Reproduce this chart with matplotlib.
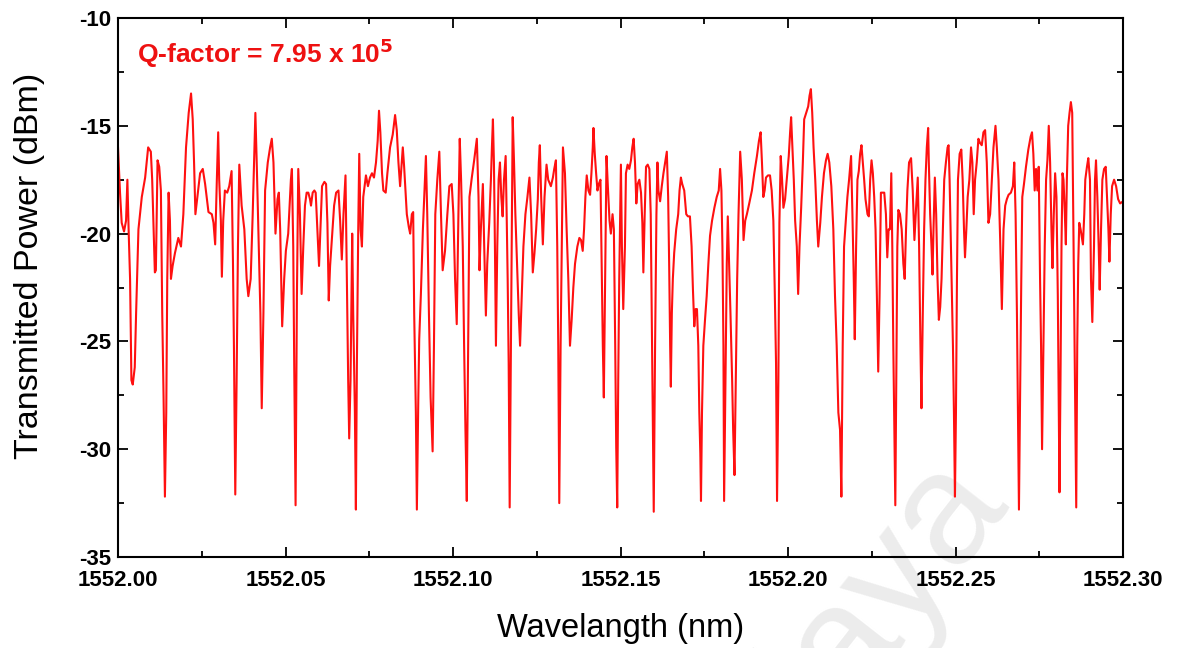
import numpy as np
import matplotlib.pyplot as plt
from matplotlib.ticker import MultipleLocator

# wavelength offset from 1552 nm (in pm) and transmitted power (dBm)
dl_pm = [
    0.0, 0.6, 1.1, 1.8, 2.4, 2.8, 3.2, 3.6, 4.0, 4.4, 5.0, 5.4, 6.1, 7.1, 8.1, 9.0, 9.8, 10.2, 10.5, 11.0,
    11.3, 11.8, 12.3, 12.8, 13.2, 13.6, 14.0, 14.4, 14.7, 15.1, 15.5, 15.8, 16.3, 17.0, 18.0, 18.8, 19.5, 20.3,
    21.1, 21.8, 22.3, 22.7, 23.1, 23.7, 24.5,
    25.3, 26.0, 27.0, 28.0, 28.5, 29.0, 29.5, 29.9, 30.2, 30.7, 31.0, 31.4, 31.9, 32.6, 33.2, 33.9, 34.3, 34.6,
    35.0, 35.4, 35.8, 36.2, 36.9, 37.7, 38.4, 38.9, 39.6, 40.2, 40.6, 41.0, 41.4, 42.0, 42.5, 42.9, 43.4, 43.9,
    44.7, 45.4, 45.9, 46.4, 47.0, 47.6, 48.0, 48.4, 49.0, 49.6, 50.1, 50.8, 51.6, 51.9, 52.3, 52.6, 53.0, 53.4, 53.8,
    54.3, 54.8, 55.3, 55.8, 56.3, 56.8, 57.3, 57.6, 58.1, 58.6, 59.0, 59.5, 60.0, 60.5, 60.9, 61.6, 62.1, 62.5,
    62.9, 63.3, 63.9, 64.5, 65.1, 65.8, 66.3, 66.8, 67.3, 67.9, 68.3, 68.7, 69.0, 69.4, 69.9, 70.2, 70.7, 71.0,
    71.3, 71.7, 72.0, 72.4, 72.8, 73.2, 74.0, 74.6, 75.2, 75.8, 76.4, 77.0, 77.5, 77.9, 78.3, 78.8,
    79.2, 79.9, 80.4, 81.2, 82.0, 82.7, 83.2, 83.7, 84.2, 84.6, 85.0, 85.4, 85.8, 86.2, 86.8, 87.2, 87.7, 88.1,
    88.4, 88.9, 89.2, 89.6, 89.9, 90.4, 91.0, 91.4, 91.9, 92.3, 92.8, 93.3, 93.9, 94.3, 94.7, 95.3, 95.9, 96.4,
    96.9, 97.6, 98.3, 98.9, 99.6, 100.1, 100.6, 101.1, 101.6, 102.0, 102.4, 102.9, 103.3, 103.7, 104.1, 104.5,
    104.9, 105.6, 106.3, 107.1, 107.6, 107.9,
    108.3, 108.9, 109.3, 109.8, 110.2, 110.8, 111.3, 111.6, 111.9, 112.2, 112.5, 112.8, 113.2, 113.6, 114.0,
    114.4, 114.8, 115.2, 115.7, 116.0, 116.3, 116.6, 116.9, 117.2, 117.5, 117.8, 118.2, 118.6, 119.1, 119.6,
    120.0, 120.5, 121.0, 121.6, 122.2, 122.8, 123.3, 123.8, 124.3, 124.8, 125.3, 125.6, 125.9, 126.3, 126.8,
    127.3, 127.9, 128.4, 129.2, 129.8, 130.2, 130.7, 131.1, 131.4, 131.7, 132.1, 132.5, 132.8,
    133.4, 133.9, 134.4, 134.9, 135.4, 135.9, 136.4, 137.1, 137.7, 138.2, 138.7, 139.1, 139.5, 139.9, 140.4,
    140.9, 141.3, 141.7, 141.9, 142.3, 142.7, 143.1, 143.5, 144.0, 144.4, 144.7, 145.0, 145.4, 145.8, 146.2,
    146.7, 147.1, 147.6, 148.0, 148.4, 148.7, 149.0, 149.3, 149.6, 150.1, 150.4, 150.8, 151.3, 151.6, 152.1,
    152.6, 153.1, 153.5, 153.9, 154.3, 154.7, 155.1, 155.6, 156.1, 156.5, 156.8, 157.2, 157.6, 158.1, 158.6,
    159.0, 159.3, 159.6, 159.9, 160.3, 160.7, 161.0,
    161.3, 161.8, 162.3, 162.8, 163.4, 163.8, 164.2, 164.5, 164.8, 165.0, 165.3, 165.6, 166.0, 166.6, 167.2,
    167.6, 168.0, 168.4, 169.0, 169.6, 170.1, 170.7, 171.2, 171.6, 172.0, 172.4, 172.8, 173.2, 173.5, 173.8,
    174.0, 174.3, 174.7, 175.2, 175.7, 176.2, 176.7, 177.3, 178.0, 178.7, 179.3, 179.7, 180.1, 180.4, 180.7,
    180.9, 181.3, 181.7, 182.0, 182.4, 182.8, 183.3, 183.6, 184.0, 184.4, 184.8, 185.2, 185.7, 186.2, 186.7,
    187.2, 187.7, 188.4, 189.2, 189.9, 190.7, 191.3, 191.8, 192.2, 192.6, 193.0, 193.4, 194.0, 194.6, 195.1,
    195.6, 196.0, 196.4, 196.7, 197.1, 197.4, 197.8, 198.2, 198.6, 199.1, 199.6, 200.2, 200.6, 200.9, 201.3,
    201.7, 202.1, 202.6, 203.0, 203.4, 203.9, 204.4, 204.8, 205.4, 206.0, 206.4, 206.8, 207.2, 207.6, 208.1,
    208.6, 209.0, 209.6, 210.1, 210.7, 211.3, 211.8, 212.3, 212.9, 213.5, 214.0, 214.5, 215.0,
    215.5, 215.9, 216.3, 216.7, 217.1, 217.7, 218.2, 218.8, 219.2, 219.6, 219.9, 220.3, 220.7, 221.1, 221.5,
    221.9, 222.3, 222.7, 223.1, 223.7, 224.1, 224.5, 224.9, 225.3, 225.7, 226.1, 226.5, 226.9, 227.3, 227.7,
    228.1, 228.7, 229.2, 229.6, 230.0, 230.4, 230.8, 231.1, 231.4, 231.7, 232.0, 232.3, 232.6, 232.9, 233.4,
    233.9, 234.4, 234.8, 235.2, 235.6, 236.1, 236.7, 237.2, 237.7, 238.2, 238.7, 239.1, 239.5, 239.8, 240.2,
    240.6, 241.0, 241.4, 241.8,
    242.0, 242.4, 242.8, 243.1, 243.4, 243.8, 244.2, 244.6, 245.0, 245.4, 245.8, 246.2, 246.6, 247.1, 247.6,
    247.9, 248.2, 248.6, 248.9, 249.2, 249.5, 249.8, 250.1, 250.4, 250.7, 251.2, 251.7, 252.1, 252.5, 252.8,
    253.2, 253.6, 254.1, 254.6, 255.0, 255.4, 255.8, 256.3, 256.8, 257.3, 257.8, 258.3, 258.8, 259.3, 259.8,
    260.3, 260.8, 261.3, 261.9, 262.3, 262.8, 263.3, 263.8, 264.3, 264.8, 265.3, 265.8, 266.5, 267.1, 267.5,
    267.9, 268.3, 268.6, 268.9,
    269.3, 269.6, 269.9, 270.4, 271.0, 271.7, 272.4, 272.8, 273.2, 273.6, 274.0, 274.4, 274.8, 275.2, 275.5,
    275.8, 276.2, 276.6, 277.0, 277.4, 277.8, 278.2, 278.6, 278.9, 279.3, 279.7, 280.1, 280.5, 280.8, 281.0,
    281.3, 281.6, 281.9, 282.2, 282.6, 282.9, 283.2, 283.6, 284.0, 284.4, 284.8, 285.1, 285.4, 285.7, 286.0,
    286.3, 286.6, 286.9, 287.3, 287.6, 288.0, 288.4, 288.7, 289.2, 289.6, 290.1, 290.4, 290.8, 291.3, 291.6,
    291.9, 292.3, 292.7, 293.0, 293.4, 293.8, 294.3, 294.8, 295.2, 295.6, 295.9, 296.3, 296.7, 297.3, 297.9,
    298.5, 299.1, 300.0,
]
power_dbm = [
    -16.0, -18.1, -19.5, -19.9, -19.4, -17.5, -20.0, -22.1, -26.8, -27.0, -26.2, -23.7, -19.8, -18.3, -17.4, -16.0, -16.2, -17.5, -19.1, -21.8,
    -21.7, -16.6, -16.9, -18.0, -23.7, -27.6, -32.2, -28.3, -22.1, -18.1, -19.4, -22.1, -21.5, -20.9, -20.2, -20.6, -19.1, -16.0,
    -14.4, -13.5, -14.7, -16.7, -19.1, -18.3, -17.2,
    -17.0, -17.7, -19.0, -19.1, -19.5, -20.5, -17.5, -15.3, -17.5, -19.4, -22.0, -19.4, -18.0, -18.1, -17.8, -17.1, -21.2, -25.2,
    -32.1, -26.8, -20.6, -16.8, -18.7, -19.8, -22.1, -22.9, -22.1, -19.1, -16.7, -14.4, -16.7, -20.6, -23.7, -28.1, -23.7, -18.0,
    -16.7, -16.0, -15.6, -16.7, -20.0, -18.4, -18.1, -19.8, -24.3, -22.1, -20.8, -20.0, -17.5, -17.0, -20.6, -26.2, -32.6, -22.9, -17.0,
    -19.1, -22.8, -20.6, -18.7, -18.1, -18.1, -18.4, -18.7, -18.1, -18.0, -18.1, -19.8, -21.5, -19.4, -17.8, -17.6, -17.7, -19.5,
    -23.1, -21.5, -20.1, -18.7, -18.1, -18.0, -19.4, -21.2, -19.1, -17.3, -22.1, -26.8, -29.5, -26.8, -20.0, -23.7, -28.3, -32.8,
    -26.0, -19.8, -16.3, -19.8, -20.6, -18.3, -17.3, -17.8, -17.4, -17.2, -17.4, -16.7, -15.7, -14.3, -15.3, -17.2,
    -18.0, -18.1, -17.2, -16.0, -15.4, -14.5, -15.2, -16.7, -17.8, -16.9, -16.0, -16.9, -18.0, -19.1, -19.7, -20.0, -19.1, -19.0,
    -23.7, -28.3, -32.8, -28.0, -24.9, -22.8, -19.8, -18.3, -16.4, -19.1, -23.7, -27.6, -30.1, -25.2, -19.1, -17.5, -16.2, -19.1,
    -21.7, -20.8, -19.1, -17.8, -17.7, -19.1, -22.1, -24.2, -19.1, -15.6, -17.5, -20.6, -25.2, -29.1, -32.4, -25.2,
    -18.3, -17.4, -16.6, -15.6, -18.3, -21.7,
    -19.8, -17.7, -20.6, -23.8, -21.4, -19.5, -17.5, -16.0, -14.7, -16.7, -20.6, -25.2, -20.6, -17.5, -16.7,
    -18.3, -19.2, -17.5, -16.4, -19.1, -22.1, -26.0, -32.7, -26.8, -20.6, -14.6, -16.7, -19.1, -21.4, -23.7,
    -25.2, -22.9, -20.6, -19.1, -18.3, -17.4, -19.1, -21.8, -20.9, -19.8, -18.4, -16.7, -15.9, -18.3, -20.5,
    -18.3, -16.8, -17.5, -17.8, -17.4, -17.0, -16.6, -20.6, -25.2, -32.5, -25.2, -19.8, -16.0,
    -17.2, -19.8, -22.1, -25.2, -24.0, -22.5, -21.4, -20.6, -20.2, -20.3, -20.8, -19.8, -18.3, -17.3, -18.0,
    -18.2, -17.2, -16.0, -15.1, -16.3, -17.2, -18.0, -17.7, -17.5, -22.1, -25.2, -27.6, -22.1, -16.4, -17.8,
    -19.4, -20.0, -19.1, -19.8, -25.2, -29.9, -32.7, -26.8, -22.1, -16.8, -20.6, -23.5, -20.6, -17.2, -16.8,
    -17.0, -16.6, -16.0, -15.6, -16.7, -18.6, -17.7, -17.5, -18.1, -19.5, -21.8, -19.1, -16.9, -16.8, -17.0,
    -19.1, -23.7, -28.3, -32.9, -25.2, -19.1, -16.7,
    -18.0, -18.5, -17.8, -17.2, -16.6, -16.2, -18.3, -21.4, -25.2, -27.1, -23.7, -22.1, -20.9, -19.8, -19.1,
    -18.0, -17.4, -17.7, -18.0, -19.1, -19.2, -19.2, -20.6, -22.6, -24.3, -23.5, -23.5, -25.2, -28.3, -30.2,
    -32.4, -28.3, -25.2, -24.0, -22.9, -21.4, -20.1, -19.4, -18.8, -18.3, -18.0, -17.0, -18.0, -20.6, -25.2,
    -32.4, -26.8, -21.4, -19.2, -21.4, -23.7, -26.8, -29.1, -31.2, -26.8, -22.1, -19.1, -16.2, -17.5, -20.3,
    -19.4, -19.1, -18.6, -18.0, -17.2, -16.4, -15.7, -15.3, -16.7, -18.3, -18.0, -17.4, -17.3, -17.3, -18.0,
    -19.4, -22.5, -26.0, -32.4, -26.8, -19.5, -16.4, -17.5, -18.8, -18.4, -17.5, -16.4, -15.3, -14.6, -16.0,
    -17.5, -19.4, -20.6, -22.8, -20.6, -18.8, -16.7, -14.7, -14.4, -14.1, -13.6, -13.3, -14.4, -16.0, -17.5,
    -19.4, -20.6, -19.5, -18.3, -17.2, -16.6, -16.3, -16.7, -17.8, -19.8, -22.9, -25.2, -28.3,
    -29.1, -32.2, -25.2, -20.6, -19.7, -18.3, -17.5, -16.4, -19.1, -22.1, -24.9, -20.6, -17.5, -17.1, -16.3,
    -15.9, -16.7, -17.5, -18.4, -19.1, -19.2, -17.5, -16.6, -17.2, -18.3, -19.8, -22.9, -26.4, -22.9, -18.1,
    -18.1, -18.1, -19.1, -21.1, -19.8, -19.8, -17.2, -20.6, -25.2, -29.1, -32.6, -26.8, -20.6, -18.9, -19.1,
    -19.8, -21.4, -22.1, -19.8, -18.0, -16.7, -16.5, -18.0, -20.3, -18.8, -17.4, -20.6, -25.2, -28.1, -23.7,
    -19.8, -17.5, -16.0, -15.1,
    -16.7, -19.1, -20.6, -21.9, -19.8, -17.4, -19.1, -22.1, -24.0, -23.4, -22.1, -19.8, -17.5, -16.7, -16.0,
    -15.9, -17.5, -20.6, -22.9, -25.2, -28.3, -32.2, -28.3, -22.1, -17.5, -16.3, -16.1, -17.5, -19.8, -21.1,
    -19.8, -18.3, -17.5, -16.0, -16.7, -19.1, -17.5, -16.7, -15.6, -15.8, -15.9, -15.3, -15.2, -16.7, -19.5,
    -19.1, -17.5, -16.0, -15.0, -16.0, -17.5, -20.3, -23.5, -19.8, -18.7, -18.4, -18.2, -18.1, -17.8, -16.7,
    -19.1, -23.7, -28.3, -32.8,
    -26.8, -22.1, -18.3, -17.7, -16.9, -16.1, -15.5, -15.3, -16.3, -18.0, -17.0, -18.0, -16.9, -22.1, -25.2,
    -30.0, -25.2, -20.6, -17.5, -16.6, -15.0, -16.7, -19.8, -21.6, -19.1, -17.2, -18.3, -22.9, -28.3, -32.0,
    -26.8, -20.6, -17.2, -17.5, -19.1, -20.5, -17.5, -15.0, -14.4, -13.9, -14.4, -19.1, -23.7, -28.3, -32.7,
    -25.2, -21.4, -19.5, -19.8, -20.1, -20.5, -19.1, -17.5, -16.9, -16.5, -17.5, -22.1, -24.1, -20.6, -17.5,
    -16.6, -18.3, -20.6, -22.6, -19.8, -17.5, -17.0, -16.9, -18.3, -19.8, -21.3, -19.1, -17.8, -17.5, -17.8,
    -18.4, -18.6, -18.5,
]

wavelength = 1552 + np.array(dl_pm) / 1000.0

plt.rcParams['font.family'] = ['Liberation Sans', 'DejaVu Sans']

fig = plt.figure(figsize=(11.86, 6.48), dpi=100)
ax = fig.add_axes([0.0995, 0.1404, 0.8475, 0.8318])
ax.patch.set_alpha(0)

# faint watermark behind everything
fig.text(0.848, 0.235, 'Malaya', fontsize=115, color='#ececec', rotation=52,
         ha='right', va='baseline', rotation_mode='anchor', zorder=-5)

ax.plot(wavelength, power_dbm, color='#ff1010', lw=1.5)

ax.set_xlim(1552.0, 1552.3)
ax.set_ylim(-35, -10)
ax.xaxis.set_major_locator(MultipleLocator(0.05))
ax.xaxis.set_minor_locator(MultipleLocator(0.025))
ax.yaxis.set_major_locator(MultipleLocator(5))
ax.yaxis.set_minor_locator(MultipleLocator(2.5))
ax.xaxis.set_major_formatter(plt.FormatStrFormatter('%.2f'))
ax.yaxis.set_major_formatter(plt.FormatStrFormatter('%d'))

ax.tick_params(which='both', direction='in', top=True, right=True, width=1.3)
ax.tick_params(which='major', length=7, labelsize=16)
ax.tick_params(which='minor', length=4)
ax.tick_params(axis='x', which='major', pad=9)
ax.tick_params(axis='y', which='major', pad=5)
for lab in ax.get_xticklabels() + ax.get_yticklabels():
    lab.set_fontweight('bold')
for sp in ax.spines.values():
    sp.set_linewidth(1.5)

ax.set_xlabel('Wavelangth (nm)', fontsize=23.5)
ax.set_ylabel('Transmitted Power (dBm)', fontsize=24.5)
ax.xaxis.set_label_coords(0.5, -0.1317)
ax.yaxis.set_label_coords(-0.0876, 0.54)
ax.xaxis.label.set_va('center')
ax.yaxis.label.set_va('center')

ax.text(0.019, 0.935, r'Q-factor = 7.95 x 10$^{\mathbf{5}}$', transform=ax.transAxes,
        color='#ee1111', fontsize=19, fontweight='bold', va='center', ha='left')

fig.savefig('out.png', dpi=100)
